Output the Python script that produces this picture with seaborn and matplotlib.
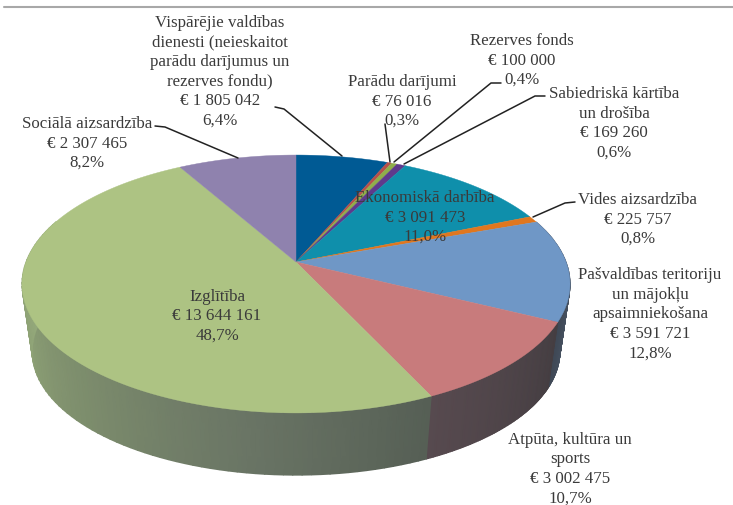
import numpy as np
import matplotlib
matplotlib.use('Agg')
import matplotlib.pyplot as plt
import seaborn as sns

# ----------------------------------------------------
# DATA
# ----------------------------------------------------
categories = ['Vispārējie valdības\ndienesti (neieskaitot\nparādu darījumus un\nrezerves fondu)',
              'Parādu darījumi', 'Rezerves fonds', 'Sabiedriskā kārtība\nun drošība',
              'Ekonomiskā darbība', 'Vides aizsardzība',
              'Pašvaldības teritoriju\nun mājokļu\napsaimniekošana',
              'Atpūta, kultūra un\nsports', 'Izglītība', 'Sociālā aizsardzība']
amounts = ['€ 1 805 042', '€ 76 016', '€ 100 000', '€ 169 260', '€ 3 091 473',
           '€ 225 757', '€ 3 591 721', '€ 3 002 475', '€ 13 644 161', '€ 2 307 465']
shares = [6.4, 0.3, 0.4, 0.6, 11.0, 0.8, 12.8, 10.7, 48.7, 8.2]
colors = ['#005a94', '#b5504c', '#8fae4a', '#5f3a8c', '#0f8fab', '#e0771f',
          '#6f97c6', '#c87b7c', '#adc383', '#8f82ae']

# label centres (pixels of the 733x506 picture)
label_pos = [(220, 71.5), (402, 101.5), (522, 60.5), (614, 123.5), (425, 217.5), (638, 219.5),
             (650, 314.5), (570, 469), (217, 316.5), (87, 143.5)]

sns.set_theme(style='white')
plt.rcParams['font.family'] = ['Liberation Serif', 'DejaVu Serif']

# ----------------------------------------------------
# PROJECAO DO DISCO
# ----------------------------------------------------
cx, cy = 296, 263
k = 0.1705


def project(theta, R=270, a=125.2, dy=0):
    u, v = np.sin(theta), np.cos(theta)
    return cx + R * u / (1 + k * v), cy + dy - a * v / (1 + k * v)


def top(theta):
    return project(theta)


def bottom(theta):
    return project(theta, R=260, a=120, dy=68.5)


fig = plt.figure(figsize=(7.33, 5.06), dpi=100)
ax = fig.add_axes([0, 0, 1, 1])
ax.set_xlim(0, 733)
ax.set_ylim(506, 0)
ax.axis('off')

ax.plot([4, 733], [8, 8], color='#a8a8a8', lw=1.5)

edges = 2 * np.pi * np.cumsum([0] + shares) / sum(shares)

# lateral: uma malha com gradiente por fatia
side_ramp = {6: ['#5d6f86', '#3f4855'],
             7: ['#453e42', '#574a4f'],
             8: ['#565f55', '#6a7565', '#7c8c6c', '#8ea276', '#9ab080']}
for i, ramp in side_ramp.items():
    ts = np.linspace(edges[i], min(edges[i + 1], np.radians(290)), 80)
    xt, yt = top(ts)
    xb, yb = bottom(ts)
    shade = np.linspace(0, 1, len(ts))
    ax.pcolormesh(np.vstack([xt, xb]), np.vstack([yt, yb]), np.vstack([shade, shade]),
                  cmap=sns.blend_palette(ramp, as_cmap=True), shading='gouraud')

# fatias de cima
for i in range(len(shares)):
    ts = np.linspace(edges[i], edges[i + 1], max(3, int(shares[i] * 4)))
    xs, ys = top(ts)
    ax.fill(np.r_[cx, xs], np.r_[cy, ys], color=colors[i], lw=0.3)

# rotulos
for i in range(len(shares)):
    pct = f'{shares[i]:.1f}%'.replace('.', ',')
    ax.text(label_pos[i][0], label_pos[i][1], f'{categories[i]}\n{amounts[i]}\n{pct}',
            ha='center', va='center', fontsize=12.2, color='#3a3a3a', linespacing=1.3)

# linhas de chamada
leaders = {0: [(275, 108), (284, 110), (342, 157)],
           1: [(385, 125), (390, 163)],
           2: [(501, 84), (491, 84), (394, 163)],
           3: [(545, 97), (535, 97), (404, 165)],
           5: [(575, 203), (565, 204), (533, 218)],
           9: [(155, 127), (165, 128), (238, 159)]}
for pts in leaders.values():
    ax.plot([p[0] for p in pts], [p[1] for p in pts], color='#222222', lw=1.1)

fig.savefig('out.png', dpi=100)
